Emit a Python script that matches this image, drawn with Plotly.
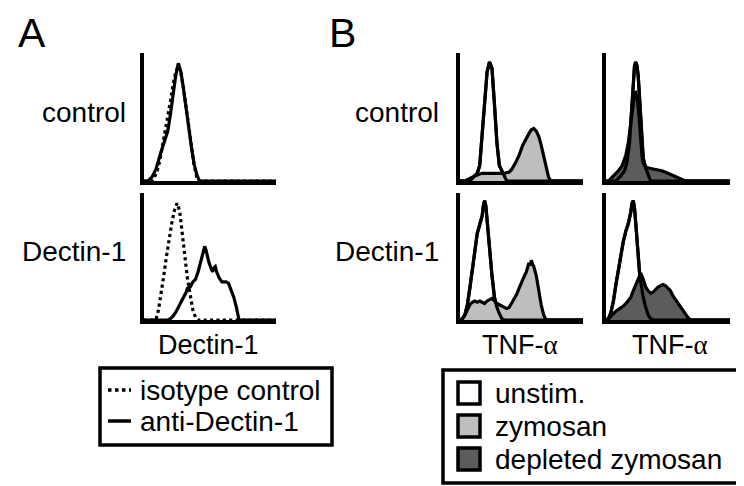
import plotly.graph_objects as go

W, H = 744, 486

# ---- data (x = fluorescence channel 0-100, y = % of max count) ----
# panel A, control cells
a_ctrl_iso_x = [0, 6, 8, 10, 12, 14, 16, 18, 20, 22, 24, 26, 28, 30, 32, 34, 36, 38, 40, 42, 100]
a_ctrl_iso_y = [0, 0, 3, 8, 16, 27, 37, 48, 62, 75, 85, 90, 84, 72, 58, 44, 28, 12, 3, 0, 0]
a_ctrl_anti_x = [0, 3, 6, 9, 13, 16, 18, 20, 22, 24, 26, 28, 29.5, 31, 33, 34.6, 36, 38, 40, 42, 100]
a_ctrl_anti_y = [0, 0, 3, 9, 23, 33, 39, 52, 68, 82, 92, 85, 75, 63, 50, 39, 26, 13, 5, 0, 0]

# panel A, Dectin-1 cells
a_dect_iso_x = [0, 9, 11, 13, 15, 17, 19, 21, 23, 25, 27, 29, 31, 33, 35, 37, 39, 41, 100]
a_dect_iso_y = [0, 0, 8, 20, 35, 50, 65, 76, 86, 92, 86, 70, 50, 32, 18, 8, 2, 0, 0]
a_dect_anti_x = [0, 18, 20, 22, 24, 26, 28, 30, 32, 33, 35, 37, 39, 41, 43, 45, 46, 47, 49, 51, 52,
                 53, 54, 55, 57, 59, 62, 64, 66, 68, 70, 72, 100]
a_dect_anti_y = [0, 0, 1, 3, 6, 10, 13, 17, 22, 25, 26, 30, 32, 38, 46, 54, 58, 55, 46, 40, 38,
                 41, 42, 38, 33, 30, 30, 29, 24, 18, 10, 0, 0]

# panel B, control cells
b_ctrl_unstim_x = [0, 8, 10, 12, 14, 16, 18, 20, 22, 24, 26, 28, 30, 32, 34, 36, 38, 100]
b_ctrl_unstim_y = [0, 0, 2, 4, 6, 12, 35, 65, 85, 93, 88, 60, 30, 12, 8, 4, 0, 0]
b_ctrl_zym_x = [0, 4, 8, 12, 18, 24, 30, 36, 40, 42, 45, 48, 51, 54, 56, 58, 60, 62, 64, 66, 68, 70, 72, 74, 100]
b_ctrl_zym_y = [0, 0, 2, 4, 6, 6, 6, 6, 7, 9, 14, 20, 28, 34, 37, 40, 41, 39, 35, 28, 20, 10, 3, 0, 0]
b_ctrl_unstim2_x = [0, 8, 10, 12, 15, 17, 19, 21, 22, 23, 24, 25, 26, 27, 28, 29, 30, 32, 34, 36, 100]
b_ctrl_unstim2_y = [0, 0, 2, 4, 8, 15, 30, 60, 80, 90, 93, 90, 82, 65, 45, 30, 18, 10, 4, 0, 0]
b_ctrl_depl_x = [0, 2, 4, 7, 10, 13, 16, 18, 20, 22, 23, 24, 25, 26, 27, 28, 29, 30, 32, 35, 40,
                 45, 50, 55, 60, 64, 100]
b_ctrl_depl_y = [0, 0, 2, 5, 8, 12, 20, 30, 45, 60, 68, 69, 66, 58, 45, 30, 20, 14, 11, 10, 9,
                 8, 6, 4, 2, 0, 0]

# panel B, Dectin-1 cells
b_dect_unstim_x = [0, 2, 4, 6, 8, 10, 12, 14, 16, 18, 19, 20, 21, 22, 24, 26, 28, 30, 32, 34, 36, 100]
b_dect_unstim_y = [0, 1, 4, 12, 25, 40, 55, 68, 75, 82, 90, 94, 90, 78, 60, 35, 18, 10, 5, 1, 0, 0]
b_dect_zym_x = [0, 2, 4, 6, 8, 10, 12, 14, 16, 18, 20, 22, 24, 26, 28, 30, 32, 34, 36, 38, 40, 42,
                44, 46, 48, 50, 52, 54, 56, 57, 58, 59, 60, 62, 64, 66, 68, 70, 100]
b_dect_zym_y = [0, 1, 4, 8, 12, 14, 15, 14, 15, 14, 13, 15, 16, 17, 15, 13, 12, 11, 10, 9, 10, 13,
                16, 20, 25, 30, 34, 38, 45, 43, 47, 44, 42, 35, 22, 12, 4, 0, 0]
b_dect_unstim2_x = [0, 2, 4, 6, 8, 10, 12, 14, 16, 18, 20, 21, 22, 23, 24, 25, 26, 27, 28, 30, 32,
                    34, 36, 38, 100]
b_dect_unstim2_y = [0, 1, 6, 15, 28, 40, 52, 62, 70, 76, 85, 92, 94, 88, 76, 62, 48, 38, 30, 18, 10,
                    4, 1, 0, 0]
b_dect_depl_x = [0, 2, 5, 8, 11, 14, 17, 20, 22, 24, 26, 28, 30, 32, 34, 36, 38, 40, 42, 44, 46, 48,
                 50, 52, 54, 56, 58, 60, 62, 64, 66, 68, 100]
b_dect_depl_y = [0, 1, 4, 7, 9, 11, 14, 18, 23, 28, 33, 37, 32, 26, 23, 21, 22, 24, 26, 27, 28, 27,
                 25, 23, 19, 16, 13, 10, 7, 4, 2, 0, 0]

row_labels = ["control", "Dectin-1"]
a_xlabel = "Dectin-1"
b_xlabel = "TNF-<span style='font-family:Liberation Serif'>α</span>"
a_legend = ["isotype control", "anti-Dectin-1"]
b_legend = ["unstim.", "zymosan", "depleted zymosan"]
b_colors = ["white", "#bebebe", "#5c5c5c"]

FONT = "Liberation Sans, Arial, sans-serif"


def px_x(p):
    return p / W


def px_y(p):
    return 1 - p / H


# panel boxes in pixels: (left, right, top, bottom)
panels = {
    "1": (136, 268, 45, 173),   # A control
    "2": (136, 268, 185, 312),  # A Dectin-1
    "3": (452, 575, 45, 173),   # B control, zymosan
    "4": (598, 722, 45, 173),   # B control, depleted
    "5": (452, 575, 185, 312),  # B Dectin-1, zymosan
    "6": (598, 722, 185, 312),  # B Dectin-1, depleted
}

fig = go.Figure()


def line(x, y, k, dash="solid", fill=None, fillcolor=None):
    xa = "x" if k == "1" else "x" + k
    ya = "y" if k == "1" else "y" + k
    fig.add_trace(go.Scatter(
        x=x, y=y, xaxis=xa, yaxis=ya, mode="lines",
        line=dict(color="black", width=3.2, dash=dash),
        fill=fill, fillcolor=fillcolor,
        showlegend=False, hoverinfo="skip"))


# A
line(a_ctrl_iso_x, a_ctrl_iso_y, "1", dash="dot")
line(a_ctrl_anti_x, a_ctrl_anti_y, "1")
line(a_dect_iso_x, a_dect_iso_y, "2", dash="dot")
line(a_dect_anti_x, a_dect_anti_y, "2")

# B: unstim (white) under, stimulated filled on top, unstim outline again
line(b_ctrl_unstim_x, b_ctrl_unstim_y, "3", fill="tozeroy", fillcolor=b_colors[0])
line(b_ctrl_zym_x, b_ctrl_zym_y, "3", fill="tozeroy", fillcolor=b_colors[1])
line(b_ctrl_unstim_x, b_ctrl_unstim_y, "3")

line(b_ctrl_unstim2_x, b_ctrl_unstim2_y, "4", fill="tozeroy", fillcolor=b_colors[0])
line(b_ctrl_depl_x, b_ctrl_depl_y, "4", fill="tozeroy", fillcolor=b_colors[2])
line(b_ctrl_unstim2_x, b_ctrl_unstim2_y, "4")

line(b_dect_unstim_x, b_dect_unstim_y, "5", fill="tozeroy", fillcolor=b_colors[0])
line(b_dect_zym_x, b_dect_zym_y, "5", fill="tozeroy", fillcolor=b_colors[1])
line(b_dect_unstim_x, b_dect_unstim_y, "5")

line(b_dect_unstim2_x, b_dect_unstim2_y, "6", fill="tozeroy", fillcolor=b_colors[0])
line(b_dect_depl_x, b_dect_depl_y, "6", fill="tozeroy", fillcolor=b_colors[2])
line(b_dect_unstim2_x, b_dect_unstim2_y, "6")

axes = {}
for k, (l, r, t, b) in panels.items():
    common = dict(range=[0, 100], showline=True, linewidth=3.5, linecolor="black",
                  showgrid=False, zeroline=False, showticklabels=False, ticks="",
                  fixedrange=True)
    xn = "xaxis" if k == "1" else "xaxis" + k
    yn = "yaxis" if k == "1" else "yaxis" + k
    axes[xn] = dict(common, domain=[px_x(l), px_x(r)], anchor="y" if k == "1" else "y" + k)
    axes[yn] = dict(common, domain=[px_y(b), px_y(t)], anchor="x" if k == "1" else "x" + k)

ann = []


def text(s, x, y, size=28, xa="center", ya="middle"):
    ann.append(dict(text=s, x=px_x(x), y=px_y(y), xref="paper", yref="paper",
                    xanchor=xa, yanchor=ya, showarrow=False, borderpad=0,
                    font=dict(family=FONT, size=size, color="black")))


text("A", 9, 1, size=41, xa="left", ya="top")
text("B", 320, 1, size=41, xa="left", ya="top")
for lx in (119, 432):
    text(row_labels[0], lx, 104, xa="right")
    text(row_labels[1], lx, 243, xa="right")
text(a_xlabel, 200, 337, size=27)
text(b_xlabel, 512, 337, size=27)
text(b_xlabel, 662, 337, size=27)

shapes = []
# legend A
shapes.append(dict(type="rect", xref="paper", yref="paper", x0=px_x(92), x1=px_x(324),
                   y0=px_y(437), y1=px_y(360), line=dict(color="black", width=3.5)))
shapes.append(dict(type="line", xref="paper", yref="paper", x0=px_x(100), x1=px_x(123),
                   y0=px_y(382), y1=px_y(382), line=dict(color="black", width=3.5, dash="dot")))
shapes.append(dict(type="line", xref="paper", yref="paper", x0=px_x(100), x1=px_x(123),
                   y0=px_y(413), y1=px_y(413), line=dict(color="black", width=3.5)))
text(a_legend[0], 131, 382, xa="left")
text(a_legend[1], 131, 413, xa="left")

# legend B
shapes.append(dict(type="rect", xref="paper", yref="paper", x0=px_x(435), x1=px_x(733),
                   y0=px_y(475), y1=px_y(362), line=dict(color="black", width=3.5)))
for i, (lab, col) in enumerate(zip(b_legend, b_colors)):
    yc = 385 + i * 33
    shapes.append(dict(type="rect", xref="paper", yref="paper", x0=px_x(450), x1=px_x(472),
                       y0=px_y(yc + 11), y1=px_y(yc - 11), fillcolor=col,
                       line=dict(color="black", width=3.5)))
    text(lab, 486, yc, xa="left")

fig.update_layout(
    width=W, height=H,
    margin=dict(l=0, r=0, t=0, b=0),
    paper_bgcolor="white", plot_bgcolor="rgba(0,0,0,0)",
    showlegend=False,
    annotations=ann, shapes=shapes,
    **axes,
)

fig.write_html("out.html")
